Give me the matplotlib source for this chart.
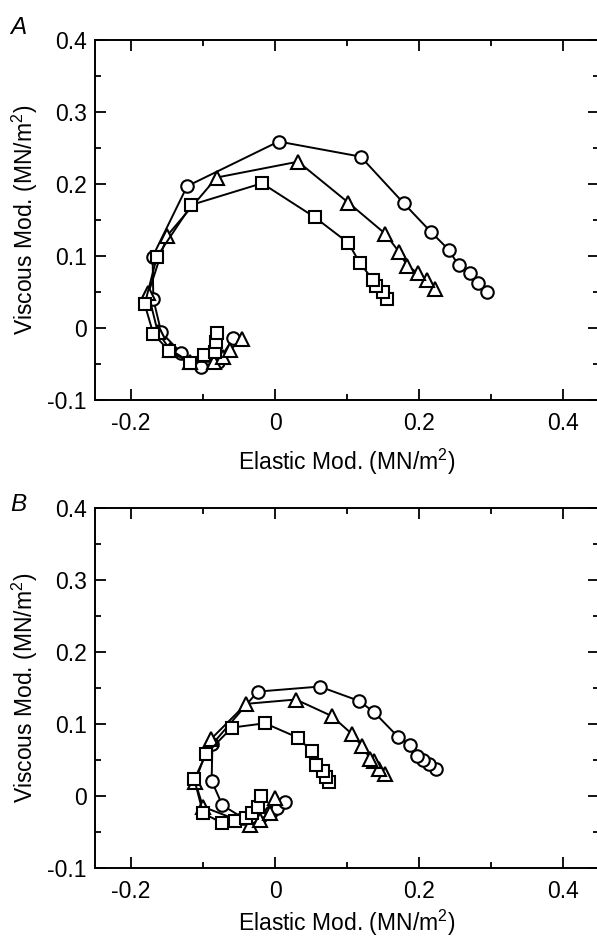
import matplotlib
matplotlib.use("Agg")
import matplotlib.pyplot as plt
from matplotlib.ticker import FixedLocator, FixedFormatter

plt.rcParams["font.family"] = ["Liberation Sans", "DejaVu Sans"]
plt.rcParams["mathtext.fontset"] = "custom"
plt.rcParams["mathtext.rm"] = "Liberation Sans"
plt.rcParams["axes.unicode_minus"] = False

# panel A
a_circle_x = [0.295, 0.282, 0.271, 0.255, 0.241, 0.216, 0.179, 0.119, 0.005, -0.122, -0.170, -0.169, -0.158, -0.130, -0.103, -0.079, -0.058]
a_circle_y = [0.050, 0.063, 0.076, 0.087, 0.109, 0.134, 0.173, 0.238, 0.259, 0.197, 0.099, 0.040, -0.006, -0.035, -0.054, -0.047, -0.014]
a_tri_x = [0.222, 0.211, 0.199, 0.184, 0.172, 0.153, 0.102, 0.032, -0.081, -0.150, -0.176, -0.163, -0.146, -0.118, -0.085, -0.072, -0.062, -0.046]
a_tri_y = [0.054, 0.066, 0.076, 0.086, 0.106, 0.131, 0.174, 0.231, 0.209, 0.128, 0.048, -0.005, -0.030, -0.047, -0.047, -0.040, -0.030, -0.015]
a_sq_x = [0.156, 0.150, 0.140, 0.136, 0.118, 0.102, 0.055, -0.018, -0.116, -0.164, -0.181, -0.169, -0.147, -0.118, -0.098, -0.083, -0.082, -0.080]
a_sq_y = [0.040, 0.050, 0.059, 0.067, 0.090, 0.118, 0.154, 0.201, 0.171, 0.099, 0.033, -0.008, -0.032, -0.048, -0.038, -0.033, -0.020, -0.007]

# panel B
b_circle_x = [0.224, 0.214, 0.206, 0.197, 0.188, 0.171, 0.138, 0.117, 0.062, -0.024, -0.087, -0.088, -0.073, -0.045, -0.020, -0.005, 0.003, 0.014]
b_circle_y = [0.037, 0.044, 0.050, 0.056, 0.071, 0.082, 0.116, 0.132, 0.152, 0.145, 0.072, 0.021, -0.013, -0.030, -0.028, -0.022, -0.016, -0.009]
b_tri_x = [0.153, 0.145, 0.138, 0.132, 0.121, 0.107, 0.079, 0.029, -0.040, -0.089, -0.111, -0.100, -0.035, -0.021, -0.007, 0.000]
b_tri_y = [0.031, 0.038, 0.048, 0.052, 0.069, 0.086, 0.111, 0.134, 0.128, 0.079, 0.020, -0.015, -0.040, -0.033, -0.024, -0.003]
b_sq_x = [0.075, 0.071, 0.066, 0.057, 0.051, 0.032, -0.014, -0.060, -0.096, -0.112, -0.100, -0.074, -0.056, -0.040, -0.032, -0.023, -0.020]
b_sq_y = [0.020, 0.027, 0.035, 0.043, 0.062, 0.081, 0.101, 0.095, 0.058, 0.023, -0.024, -0.037, -0.035, -0.031, -0.023, -0.015, 0.000]

x_major = [-0.2, 0.0, 0.2, 0.4]
x_major_labels = ["-0.2", "0", "0.2", "0.4"]
x_minor = [-0.1, 0.1, 0.3]
y_major = [-0.1, 0.0, 0.1, 0.2, 0.3, 0.4]
y_major_labels = ["-0.1", "0", "0.1", "0.2", "0.3", "0.4"]
y_minor = [-0.05, 0.05, 0.15, 0.25, 0.35]

FONT = 16.5
W, H = 597, 941


def draw_panel(ax, series, xpad):
    for xs, ys, marker, size in series:
        ax.plot(xs, ys, color="black", linewidth=1.4, marker=marker, markersize=size,
                markerfacecolor="white", markeredgecolor="black", markeredgewidth=1.5, zorder=3)
    ax.set_xlim(-0.25, 0.45)
    ax.set_ylim(-0.1, 0.4)
    ax.xaxis.set_major_locator(FixedLocator(x_major))
    ax.xaxis.set_major_formatter(FixedFormatter(x_major_labels))
    ax.xaxis.set_minor_locator(FixedLocator(x_minor))
    ax.yaxis.set_major_locator(FixedLocator(y_major))
    ax.yaxis.set_major_formatter(FixedFormatter(y_major_labels))
    ax.yaxis.set_minor_locator(FixedLocator(y_minor))
    ax.tick_params(which="both", direction="in", top=True, right=True, width=1.3, labelsize=FONT)
    ax.tick_params(which="major", length=8)
    ax.tick_params(which="minor", length=4)
    ax.tick_params(axis="x", which="major", pad=9)
    ax.tick_params(axis="y", which="major", pad=6)
    for spine in ax.spines.values():
        spine.set_linewidth(1.4)
    ax.set_xlabel(r"Elastic Mod. (MN/m$\mathregular{^2}$)", fontsize=FONT, labelpad=xpad)
    ax.set_ylabel(r"Viscous Mod. (MN/m$\mathregular{^2}$)", fontsize=FONT, labelpad=5)


fig = plt.figure(figsize=(W / 100, H / 100), dpi=100)
left = 95 / W
width = 504 / W
height = 360 / H
ax_a = fig.add_axes([left, 1 - 400 / H, width, height])
ax_b = fig.add_axes([left, 1 - 868 / H, width, height])

draw_panel(ax_a, [(a_circle_x, a_circle_y, "o", 9), (a_tri_x, a_tri_y, "^", 10), (a_sq_x, a_sq_y, "s", 9)], 8)
draw_panel(ax_b, [(b_circle_x, b_circle_y, "o", 9), (b_tri_x, b_tri_y, "^", 10), (b_sq_x, b_sq_y, "s", 9)], 3)

fig.text(10 / W, 1 - 34 / H, "A", fontsize=FONT + 1, style="italic", ha="left", va="baseline")
fig.text(10 / W, 1 - 511 / H, "B", fontsize=FONT + 1, style="italic", ha="left", va="baseline")

fig.savefig("out.png", dpi=100)
